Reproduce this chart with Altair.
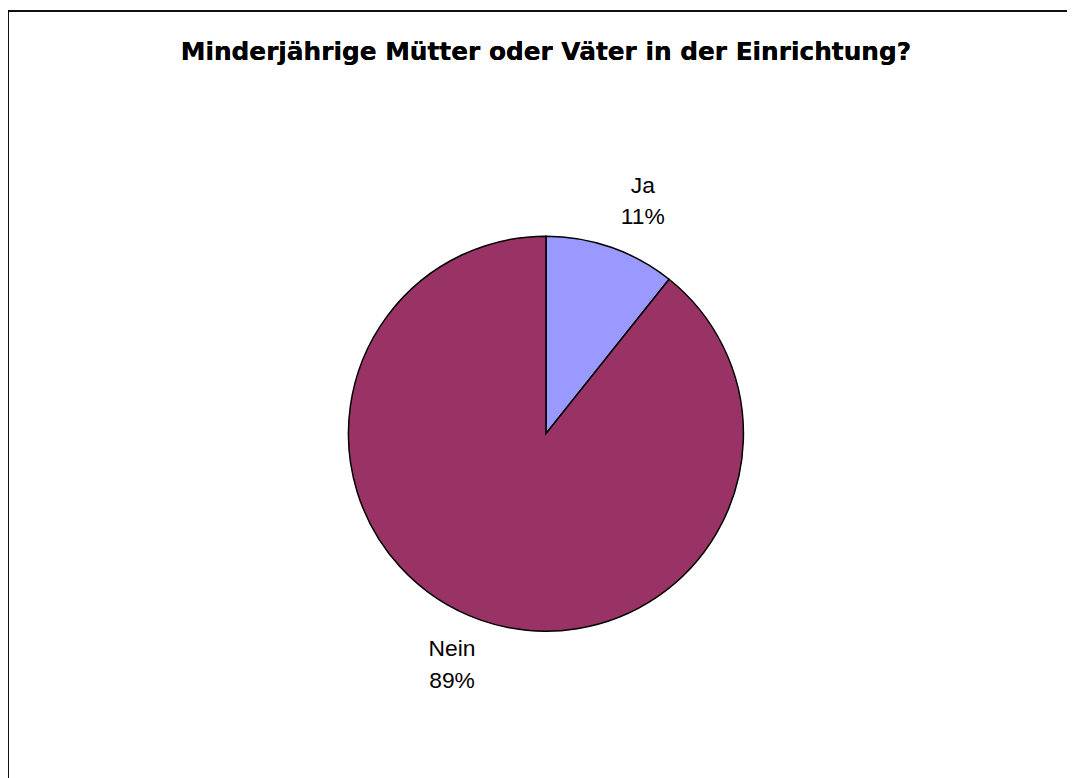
import altair as alt
import pandas as pd

# Data
categories = ["Ja", "Nein"]
counts = [3, 25]
percent_labels = ["11%", "89%"]
colors = ["#9999FF", "#993366"]
title_text = "Minderjährige Mütter oder Väter in der Einrichtung?"

df = pd.DataFrame({
    "Kategorie": categories,
    "Anzahl": counts,
    "ord": list(range(len(categories))),
    "label": [f"{c}\n{p}" for c, p in zip(categories, percent_labels)],
})
total = sum(counts)

W, H = 1067, 770
CX, CY = 542, 426
R = 199

theta_scale = alt.Scale(domain=[0, total], range=[0, 6.283185307179586], zero=True)

stacked = alt.Chart(df).transform_stack(
    stack="Anzahl", groupby=[], as_=["start", "end"],
    sort=[alt.SortField("ord", order="ascending")],
).transform_calculate(mid="(datum.start + datum.end) / 2")

arcs = stacked.mark_arc(outerRadius=R, stroke="black", strokeWidth=1.5).encode(
    theta=alt.Theta("start:Q", scale=theta_scale),
    theta2="end:Q",
    color=alt.Color("Kategorie:N",
                    scale=alt.Scale(domain=categories, range=colors),
                    legend=None),
    x=alt.value(CX),
    y=alt.value(CY),
)

def label_layer(cat, dx, dy):
    return stacked.transform_filter(alt.datum.Kategorie == cat).mark_text(
        radius=250, fontSize=23, font="Liberation Sans", lineBreak="\n",
        lineHeight=32, align="center", baseline="middle", color="black",
        dx=dx, dy=dy,
    ).encode(
        theta=alt.Theta("mid:Q", scale=theta_scale),
        text="label:N",
        x=alt.value(CX),
        y=alt.value(CY),
    )

labels_ja = label_layer("Ja", 15, -14)
labels_nein = label_layer("Nein", -12, -19)

title = alt.Chart(df).mark_text(
    font="DejaVu Sans", fontSize=25, fontWeight="bold", color="black",
    align="center", baseline="alphabetic",
).encode(x=alt.value(CX), y=alt.value(49), text=alt.value(title_text))

frame_top = alt.Chart(df).mark_rule(color="black", strokeWidth=1.5).encode(
    x=alt.value(0), x2=alt.value(W + 10), y=alt.value(0)
)
frame_left = alt.Chart(df).mark_rule(color="black", strokeWidth=1.5).encode(
    x=alt.value(0), y=alt.value(0), y2=alt.value(H + 20)
)

chart = alt.layer(frame_top, frame_left, arcs, labels_ja, labels_nein, title).properties(
    width=W,
    height=H,
    padding=0,
    background="white",
    autosize=alt.AutoSizeParams(type="none"),
).configure_view(strokeWidth=0, stroke="transparent")

chart.save("out.html", embed_options={"renderer": "svg", "actions": False})
